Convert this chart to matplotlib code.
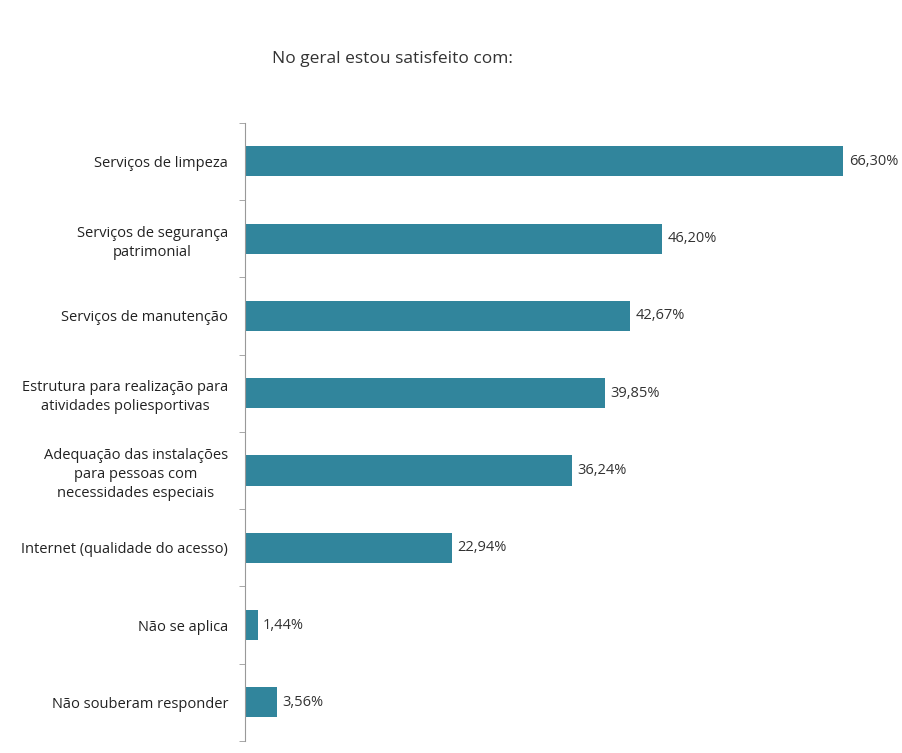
import matplotlib.pyplot as plt
import numpy as np

plt.rcParams["font.family"] = ["Open Sans", "DejaVu Sans"]

categories = [
    "Serviços de limpeza",
    "Serviços de segurança\npatrimonial",
    "Serviços de manutenção",
    "Estrutura para realização para\natividades poliesportivas",
    "Adequação das instalações\npara pessoas com\nnecessidades especiais",
    "Internet (qualidade do acesso)",
    "Não se aplica",
    "Não souberam responder",
]
values = [66.30, 46.20, 42.67, 39.85, 36.24, 22.94, 1.44, 3.56]

fig = plt.figure(figsize=(9.03, 7.53), dpi=100)
ax = fig.add_axes([0.271, 0.016, 0.72, 0.821])

y = np.arange(len(categories))
ax.barh(y, values, height=0.39, color="#31859C")

for yi, v in zip(y, values):
    ax.text(v + 0.6, yi, f"{v:.2f}%".replace(".", ","), va="center", ha="left",
            fontsize=10.5, color="#333333")

ax.set_ylim(len(categories) - 0.5, -0.5)
ax.set_xlim(0, 72)
ax.set_yticks(y)
ax.set_yticklabels(categories, fontsize=10.5, color="#222222", linespacing=1.35)
for lbl in ax.get_yticklabels():
    lbl.set_multialignment("center")
ax.tick_params(axis="y", length=0, pad=12)
ax.set_yticks(np.arange(len(categories) + 1) - 0.5, minor=True)
ax.tick_params(axis="y", which="minor", length=4, color="#999999")
ax.set_xticks([])

for s in ["top", "right", "bottom"]:
    ax.spines[s].set_visible(False)
ax.spines["left"].set_color("#999999")

fig.text(0.435, 0.922, "No geral estou satisfeito com:", ha="center", va="center",
         fontsize=12.5, color="#333333")

fig.savefig("out.png", dpi=100)
